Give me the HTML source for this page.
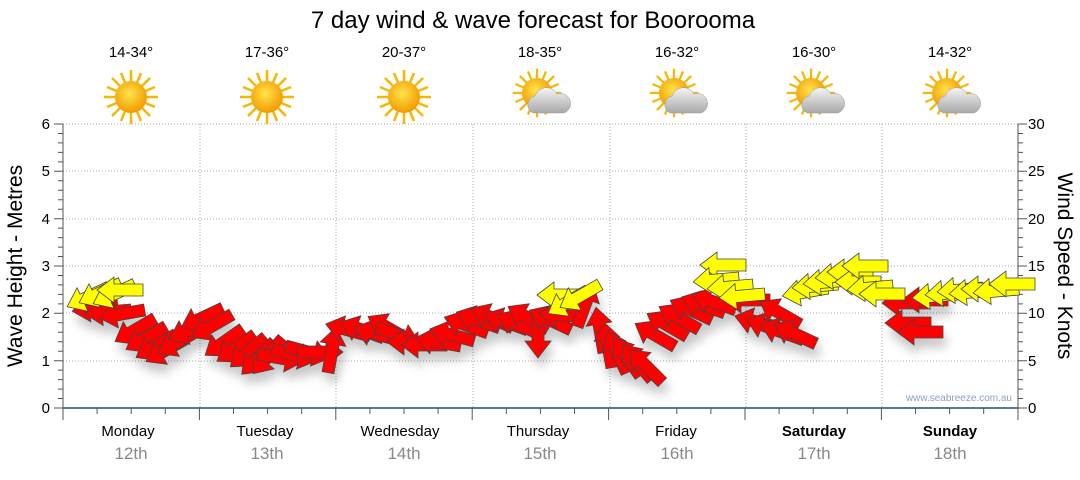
<!DOCTYPE html>
<html><head><meta charset="utf-8"><style>
body{margin:0;background:#fff;font-family:"Liberation Sans","DejaVu Sans",sans-serif}
</style></head><body>
<svg width="1080" height="475" xmlns="http://www.w3.org/2000/svg" xmlns:xlink="http://www.w3.org/1999/xlink" font-family="Liberation Sans, DejaVu Sans, sans-serif">
<defs>
<path id="ar" d="M-23,0 L-6,-13 L-6,-6 L23,-6 L23,6 L-6,6 L-6,13 Z" stroke="#444" stroke-width="0.8"/>
<radialGradient id="sun" cx="45%" cy="40%" r="60%"><stop offset="0" stop-color="#ffe34a"/><stop offset="1" stop-color="#f29a00"/></radialGradient>
<linearGradient id="cl" x1="0" y1="0" x2="0" y2="1"><stop offset="0" stop-color="#f4f4f4"/><stop offset="1" stop-color="#a8a8a8"/></linearGradient>
<g id="rays"><g stroke="#f5b800" stroke-width="2.5">
<line x1="0" y1="-27" x2="0" y2="27"/><line x1="-27" y1="0" x2="27" y2="0"/>
<line x1="-19" y1="-19" x2="19" y2="19"/><line x1="-19" y1="19" x2="19" y2="-19"/>
<line x1="-10" y1="-24" x2="10" y2="24"/><line x1="-24" y1="-10" x2="24" y2="10"/>
<line x1="-10" y1="24" x2="10" y2="-24"/><line x1="-24" y1="10" x2="24" y2="-10"/></g></g>
<g id="sunI"><use href="#rays" xlink:href="#rays"/><circle r="16" fill="url(#sun)"/></g>
<g id="cloudI"><use href="#rays" xlink:href="#rays" transform="translate(-8,-4) scale(0.9)"/><circle cx="-8" cy="-4" r="15" fill="url(#sun)"/>
<path d="M-12,16 a9,9 0 0 1 2,-17 a12,12 0 0 1 22,-2 a9,9 0 0 1 7,19 z" fill="url(#cl)" stroke="#999" stroke-width="0.5"/></g>
</defs>
<text x="533" y="28" font-size="24" text-anchor="middle" fill="#000">7 day wind &amp; wave forecast for Boorooma</text>
<g font-size="15" text-anchor="middle">
<text x="131" y="57">14-34°</text><text x="267" y="57">17-36°</text><text x="404" y="57">20-37°</text><text x="540" y="57">18-35°</text><text x="677" y="57">16-32°</text><text x="814" y="57">16-30°</text><text x="950" y="57">14-32°</text></g>
<use href="#sunI" xlink:href="#sunI" x="131" y="97"/><use href="#sunI" xlink:href="#sunI" x="267" y="97"/><use href="#sunI" xlink:href="#sunI" x="404" y="97"/>
<use href="#cloudI" xlink:href="#cloudI" x="545" y="97"/><use href="#cloudI" xlink:href="#cloudI" x="682" y="97"/><use href="#cloudI" xlink:href="#cloudI" x="819" y="97"/><use href="#cloudI" xlink:href="#cloudI" x="955" y="97"/>
<g stroke="#aaa" stroke-dasharray="1,2" stroke-width="1">
<line x1="63" x2="1018" y1="124" y2="124"/><line x1="63" x2="1018" y1="171" y2="171"/><line x1="63" x2="1018" y1="219" y2="219"/><line x1="63" x2="1018" y1="266" y2="266"/><line x1="63" x2="1018" y1="313" y2="313"/><line x1="63" x2="1018" y1="361" y2="361"/>
<line x1="200" x2="200" y1="124" y2="408"/><line x1="336" x2="336" y1="124" y2="408"/><line x1="473" x2="473" y1="124" y2="408"/><line x1="610" x2="610" y1="124" y2="408"/><line x1="746" x2="746" y1="124" y2="408"/><line x1="882" x2="882" y1="124" y2="408"/>
</g>
<line x1="63" x2="1018" y1="408" y2="408" stroke="#1b4f72" stroke-width="1.5"/>
<line x1="63" x2="63" y1="124" y2="408" stroke="#555"/>
<line x1="1018" x2="1018" y1="124" y2="408" stroke="#555"/>
<path stroke="#555" fill="none" stroke-width="1" d="
M58,398.5H63M58,389.1H63M58,379.6H63M58,370.1H63M58,351.2H63M58,341.7H63M58,332.3H63M58,322.8H63M58,303.9H63M58,294.4H63M58,284.9H63M58,275.5H63M58,256.5H63M58,247.1H63M58,237.6H63M58,228.1H63M58,209.2H63M58,199.7H63M58,190.3H63M58,180.8H63M58,161.9H63M58,152.4H63M58,142.9H63M58,133.5H63
M54,408H63M54,360.7H63M54,313.3H63M54,266H63M54,218.7H63M54,171.3H63M54,124H63
M1018,398.5H1023M1018,389.1H1023M1018,379.6H1023M1018,370.1H1023M1018,351.2H1023M1018,341.7H1023M1018,332.3H1023M1018,322.8H1023M1018,303.9H1023M1018,294.4H1023M1018,284.9H1023M1018,275.5H1023M1018,256.5H1023M1018,247.1H1023M1018,237.6H1023M1018,228.1H1023M1018,209.2H1023M1018,199.7H1023M1018,190.3H1023M1018,180.8H1023M1018,161.9H1023M1018,152.4H1023M1018,142.9H1023M1018,133.5H1023
M1018,408H1027M1018,360.7H1027M1018,313.3H1027M1018,266H1027M1018,218.7H1027M1018,171.3H1027M1018,124H1027
M63,408V420M199.4,408V420M335.8,408V420M472.2,408V420M608.6,408V420M745,408V420M881.4,408V420M1018,408V420
M97.1,408V414M131.2,408V414M165.3,408V414M233.5,408V414M267.6,408V414M301.7,408V414M369.9,408V414M404,408V414M438.1,408V414M506.3,408V414M540.4,408V414M574.5,408V414M642.7,408V414M676.8,408V414M710.9,408V414M779.1,408V414M813.2,408V414M847.3,408V414M915.5,408V414M949.6,408V414M983.7,408V414"/>
<g font-size="15" fill="#000">
<text x="50" y="413" text-anchor="end">0</text><text x="50" y="366" text-anchor="end">1</text><text x="50" y="318" text-anchor="end">2</text><text x="50" y="271" text-anchor="end">3</text><text x="50" y="224" text-anchor="end">4</text><text x="50" y="176" text-anchor="end">5</text><text x="50" y="129" text-anchor="end">6</text>
<text x="1028" y="413">0</text><text x="1028" y="366">5</text><text x="1028" y="318">10</text><text x="1028" y="271">15</text><text x="1028" y="224">20</text><text x="1028" y="176">25</text><text x="1028" y="129">30</text>
</g>
<text transform="translate(22,266) rotate(-90)" font-size="21" text-anchor="middle">Wave Height - Metres</text>
<text transform="translate(1058,266) rotate(90)" font-size="21" text-anchor="middle">Wind Speed - Knots</text>
<text x="1012" y="401" font-size="10" fill="#8aa0c0" text-anchor="end">www.seabreeze.com.au</text>
<g font-size="15" text-anchor="middle">
<text x="128" y="436">Monday</text><text x="265" y="436">Tuesday</text><text x="400" y="436">Wednesday</text><text x="538" y="436">Thursday</text><text x="676" y="436">Friday</text><text x="814" y="436" font-weight="bold">Saturday</text><text x="950" y="436" font-weight="bold">Sunday</text>
</g>
<g font-size="17" text-anchor="middle" fill="#888">
<text x="131" y="459">12th</text><text x="267" y="459">13th</text><text x="404" y="459">14th</text><text x="540" y="459">15th</text><text x="677" y="459">16th</text><text x="814" y="459">17th</text><text x="950" y="459">18th</text>
</g>
<g fill="#ff0000" style="filter:drop-shadow(3px 9px 5px rgba(0,0,0,0.22))">
<use xlink:href="#ar" href="#ar" transform="translate(95,308) rotate(-8)"/>
<use xlink:href="#ar" href="#ar" transform="translate(108,312) rotate(-5)"/>
<use xlink:href="#ar" href="#ar" transform="translate(122,314) rotate(-10)"/>
<use xlink:href="#ar" href="#ar" transform="translate(135,330) rotate(-30)"/>
<use xlink:href="#ar" href="#ar" transform="translate(146,338) rotate(-30)"/>
<use xlink:href="#ar" href="#ar" transform="translate(156,346) rotate(-30)"/>
<use xlink:href="#ar" href="#ar" transform="translate(166,350) rotate(-30)"/>
<use xlink:href="#ar" href="#ar" transform="translate(178,342) rotate(-30)"/>
<use xlink:href="#ar" href="#ar" transform="translate(190,330) rotate(-25)"/>
<use xlink:href="#ar" href="#ar" transform="translate(202,318) rotate(-25)"/>
<use xlink:href="#ar" href="#ar" transform="translate(212,326) rotate(-30)"/>
<use xlink:href="#ar" href="#ar" transform="translate(224,342) rotate(-35)"/>
<use xlink:href="#ar" href="#ar" transform="translate(236,348) rotate(-35)"/>
<use xlink:href="#ar" href="#ar" transform="translate(248,352) rotate(-40)"/>
<use xlink:href="#ar" href="#ar" transform="translate(258,358) rotate(-45)"/>
<use xlink:href="#ar" href="#ar" transform="translate(268,356) rotate(-50)"/>
<use xlink:href="#ar" href="#ar" transform="translate(280,358) rotate(190)"/>
<use xlink:href="#ar" href="#ar" transform="translate(294,355) rotate(195)"/>
<use xlink:href="#ar" href="#ar" transform="translate(308,352) rotate(195)"/>
<use xlink:href="#ar" href="#ar" transform="translate(320,352) rotate(180)"/>
<use xlink:href="#ar" href="#ar" transform="translate(332,350) rotate(100)"/>
<use xlink:href="#ar" href="#ar" transform="translate(348,330) rotate(15)"/>
<use xlink:href="#ar" href="#ar" transform="translate(362,330) rotate(20)"/>
<use xlink:href="#ar" href="#ar" transform="translate(376,334) rotate(15)"/>
<use xlink:href="#ar" href="#ar" transform="translate(388,328) rotate(30)"/>
<use xlink:href="#ar" href="#ar" transform="translate(398,335) rotate(200)"/>
<use xlink:href="#ar" href="#ar" transform="translate(410,342) rotate(0)"/>
<use xlink:href="#ar" href="#ar" transform="translate(424,345) rotate(0)"/>
<use xlink:href="#ar" href="#ar" transform="translate(438,342) rotate(10)"/>
<use xlink:href="#ar" href="#ar" transform="translate(452,335) rotate(15)"/>
<use xlink:href="#ar" href="#ar" transform="translate(466,325) rotate(20)"/>
<use xlink:href="#ar" href="#ar" transform="translate(478,320) rotate(20)"/>
<use xlink:href="#ar" href="#ar" transform="translate(492,318) rotate(25)"/>
<use xlink:href="#ar" href="#ar" transform="translate(506,322) rotate(20)"/>
<use xlink:href="#ar" href="#ar" transform="translate(518,324) rotate(25)"/>
<use xlink:href="#ar" href="#ar" transform="translate(528,318) rotate(30)"/>
<use xlink:href="#ar" href="#ar" transform="translate(538,335) rotate(-90)"/>
<use xlink:href="#ar" href="#ar" transform="translate(550,320) rotate(25)"/>
<use xlink:href="#ar" href="#ar" transform="translate(562,315) rotate(5)"/>
<use xlink:href="#ar" href="#ar" transform="translate(585,305) rotate(110)"/>
<use xlink:href="#ar" href="#ar" transform="translate(600,330) rotate(80)"/>
<use xlink:href="#ar" href="#ar" transform="translate(608,345) rotate(80)"/>
<use xlink:href="#ar" href="#ar" transform="translate(617,352) rotate(65)"/>
<use xlink:href="#ar" href="#ar" transform="translate(627,357) rotate(55)"/>
<use xlink:href="#ar" href="#ar" transform="translate(637,362) rotate(50)"/>
<use xlink:href="#ar" href="#ar" transform="translate(646,366) rotate(45)"/>
<use xlink:href="#ar" href="#ar" transform="translate(655,335) rotate(30)"/>
<use xlink:href="#ar" href="#ar" transform="translate(667,325) rotate(30)"/>
<use xlink:href="#ar" href="#ar" transform="translate(679,318) rotate(30)"/>
<use xlink:href="#ar" href="#ar" transform="translate(691,310) rotate(25)"/>
<use xlink:href="#ar" href="#ar" transform="translate(703,305) rotate(20)"/>
<use xlink:href="#ar" href="#ar" transform="translate(714,302) rotate(20)"/>
<use xlink:href="#ar" href="#ar" transform="translate(747,300) rotate(0)"/>
<use xlink:href="#ar" href="#ar" transform="translate(757,322) rotate(15)"/>
<use xlink:href="#ar" href="#ar" transform="translate(768,327) rotate(20)"/>
<use xlink:href="#ar" href="#ar" transform="translate(780,313) rotate(30)"/>
<use xlink:href="#ar" href="#ar" transform="translate(782,332) rotate(20)"/>
<use xlink:href="#ar" href="#ar" transform="translate(795,334) rotate(25)"/>
<use xlink:href="#ar" href="#ar" transform="translate(905,303) rotate(0)"/>
<use xlink:href="#ar" href="#ar" transform="translate(925,300) rotate(0)"/>
<use xlink:href="#ar" href="#ar" transform="translate(908,323) rotate(0)"/>
<use xlink:href="#ar" href="#ar" transform="translate(920,332) rotate(0)"/>
</g>
<g fill="#ffff00">
<use xlink:href="#ar" href="#ar" transform="translate(88,297) rotate(-25)"/>
<use xlink:href="#ar" href="#ar" transform="translate(100,293) rotate(-25)"/>
<use xlink:href="#ar" href="#ar" transform="translate(114,294) rotate(-25)"/>
<use xlink:href="#ar" href="#ar" transform="translate(120,290) rotate(0)"/>
<use xlink:href="#ar" href="#ar" transform="translate(560,295) rotate(0)"/>
<use xlink:href="#ar" href="#ar" transform="translate(568,302) rotate(-30)"/>
<use xlink:href="#ar" href="#ar" transform="translate(580,296) rotate(-30)"/>
<use xlink:href="#ar" href="#ar" transform="translate(723,265) rotate(0)"/>
<use xlink:href="#ar" href="#ar" transform="translate(716,280) rotate(-5)"/>
<use xlink:href="#ar" href="#ar" transform="translate(730,287) rotate(-5)"/>
<use xlink:href="#ar" href="#ar" transform="translate(742,296) rotate(-5)"/>
<use xlink:href="#ar" href="#ar" transform="translate(805,292) rotate(-10)"/>
<use xlink:href="#ar" href="#ar" transform="translate(815,286) rotate(-5)"/>
<use xlink:href="#ar" href="#ar" transform="translate(826,282) rotate(-5)"/>
<use xlink:href="#ar" href="#ar" transform="translate(838,276) rotate(-5)"/>
<use xlink:href="#ar" href="#ar" transform="translate(850,272) rotate(0)"/>
<use xlink:href="#ar" href="#ar" transform="translate(858,282) rotate(0)"/>
<use xlink:href="#ar" href="#ar" transform="translate(865,266) rotate(0)"/>
<use xlink:href="#ar" href="#ar" transform="translate(870,288) rotate(-5)"/>
<use xlink:href="#ar" href="#ar" transform="translate(882,294) rotate(0)"/>
<use xlink:href="#ar" href="#ar" transform="translate(935,296) rotate(-5)"/>
<use xlink:href="#ar" href="#ar" transform="translate(948,293) rotate(-5)"/>
<use xlink:href="#ar" href="#ar" transform="translate(960,290) rotate(-5)"/>
<use xlink:href="#ar" href="#ar" transform="translate(972,292) rotate(-5)"/>
<use xlink:href="#ar" href="#ar" transform="translate(984,289) rotate(0)"/>
<use xlink:href="#ar" href="#ar" transform="translate(996,291) rotate(-5)"/>
<use xlink:href="#ar" href="#ar" transform="translate(1012,284) rotate(0)"/>
</g>
</svg>
</body></html>
